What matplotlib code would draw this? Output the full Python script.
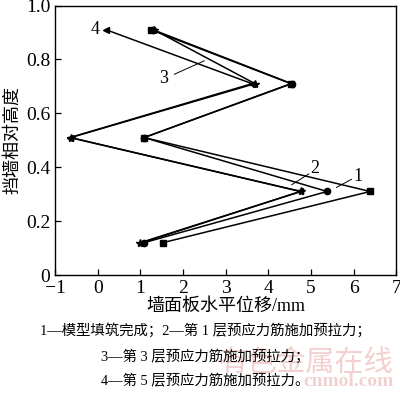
import matplotlib.pyplot as plt

plt.rcParams['font.family'] = ['Liberation Serif', 'Noto Sans CJK SC']
plt.rcParams['axes.unicode_minus'] = True

height = [0.12, 0.31, 0.51, 0.71, 0.91]
disp_1 = [1.53, 6.39, 1.09, 4.53, 1.25]
disp_2 = [1.09, 5.38, 1.09, 4.55, 1.30]
disp_3 = [1.00, 4.77, -0.63, 3.69, 1.32]
disp_4 = [1.05, 4.75, -0.65, 3.62, 0.20]

xticks = [-1, 0, 1, 2, 3, 4, 5, 6, 7]
yticks = [0, 0.2, 0.4, 0.6, 0.8, 1.0]
ytick_labels = ['0', '0.2', '0.4', '0.6', '0.8', '1.0']

fig = plt.figure(figsize=(4.0, 3.94), dpi=100)
ax = fig.add_axes([0.1375, 0.302, 0.853, 0.684])

kw = dict(color='black', lw=1.1)
ax.plot(disp_1, height, marker='s', ms=4.5, **kw)
ax.plot(disp_2, height, marker='o', ms=4.5, **kw)
ax.plot(disp_3, height, marker='*', ms=6, **kw)
ax.plot(disp_4, height, marker='<', ms=4.5, **kw)

ax.set_xlim(-1, 7)
ax.set_ylim(0, 1.0)
ax.set_xticks(xticks)
ax.set_yticks(yticks)
ax.set_yticklabels(ytick_labels)
ax.tick_params(direction='in', labelsize=14, length=4, width=0.9)
for s in ax.spines.values():
    s.set_linewidth(1.0)

ax.set_xlabel('墙面板水平位移/mm', fontsize=13, labelpad=1)
ax.set_ylabel('挡墙相对高度', fontsize=13, labelpad=3)

# curve labels with leader lines
ax.text(0.05, 0.91, '4', fontsize=13, ha='right', va='center')
ax.text(1.55, 0.73, '3', fontsize=13, ha='center', va='center')
ax.plot([1.8, 2.5], [0.745, 0.795], color='black', lw=0.7)
ax.text(5.1, 0.395, '2', fontsize=13, ha='center', va='center')
ax.plot([4.55, 4.95], [0.335, 0.375], color='black', lw=0.7)
ax.text(6.1, 0.365, '1', fontsize=13, ha='center', va='center')
ax.plot([5.6, 5.95], [0.325, 0.355], color='black', lw=0.7)

# watermark (behind caption)
fig.text(0.985, 1 - 363 / 394, '有色金属在线', fontsize=21, color='#f3d0d0',
         ha='right', va='center', zorder=0)
fig.text(0.985, 1 - 382 / 394, 'cnmol.com', fontsize=14, color='#f3d0d0',
         fontweight='bold', ha='right', va='center', zorder=0)

cap = ['1—模型填筑完成；2—第 1 层预应力筋施加预拉力；',
       '3—第 3 层预应力筋施加预拉力；',
       '4—第 5 层预应力筋施加预拉力。']
fig.text(0.513, 1 - 330 / 394, cap[0], fontsize=10.4, ha='center', va='center', zorder=5)
fig.text(0.513, 1 - 356 / 394, cap[1], fontsize=10.4, ha='center', va='center', zorder=5)
fig.text(0.513, 1 - 381 / 394, cap[2], fontsize=10.4, ha='center', va='center', zorder=5)

fig.savefig('out.png', dpi=100)
